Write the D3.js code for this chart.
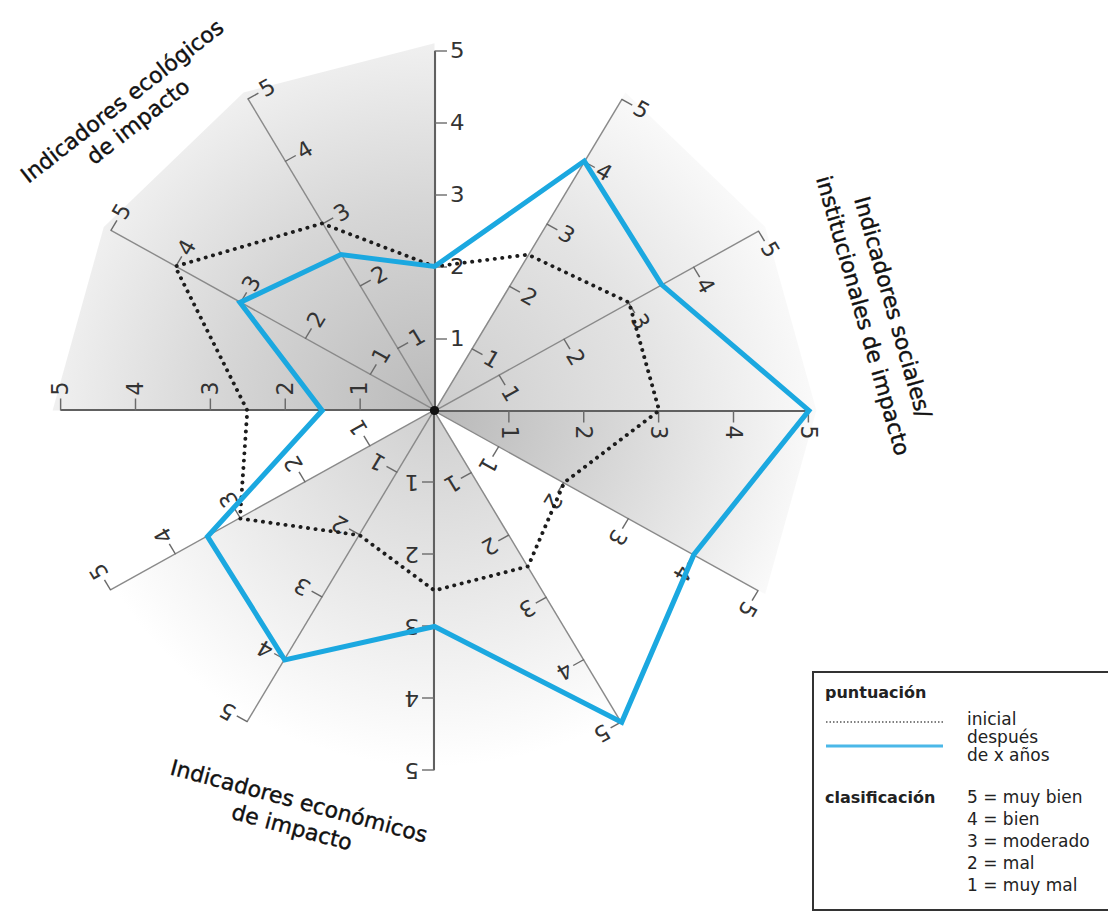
<!DOCTYPE html>
<html>
<head>
<meta charset="utf-8">
<script src="https://cdn.jsdelivr.net/npm/d3@7"></script>
<style>
  body { margin: 0; background: #fff; }
  svg { display: block; font-family: "DejaVu Sans", sans-serif; }
</style>
</head>
<body>
<svg id="chart" width="1108" height="913"></svg>
<script>
// axes go clockwise from 12 o'clock, one every 30 degrees
var axisAngles = [0, 30, 60, 90, 120, 150, 180, 210, 240, 270, 300, 330];
var scoreTicks = [1, 2, 3, 4, 5];
var scoreInitial = [2, 2.5, 3, 3, 2, 2.5, 2.5, 2, 3, 2.5, 4, 3];
var scoreAfter = [2, 4, 3.5, 5, 4, 5, 3, 4, 3.5, 1.5, 3, 2.5];
// grey sectors behind the axes (degrees, clockwise from 12 o'clock)
var shadeFrom = [270, 30, 90, 150];
var shadeTo = [360, 90, 120, 240];
var groupTitles = [
  ["Indicadores ecológicos", "de impacto"],
  ["Indicadores sociales/", "institucionales de impacto"],
  ["Indicadores económicos", "de impacto"]
];
var legendScore = ["inicial", "después", "de x años"];
var legendClass = ["5 = muy bien", "4 = bien", "3 = moderado", "2 = mal", "1 = muy mal"];

var svg = d3.select("#chart");
var defs = svg.append("defs");
var unit = 72;
var r = d3.scaleLinear().domain([0, 5]).range([0, 5 * unit]);
var rad = function(a){ return a * Math.PI / 180; };

var chart = svg.append("g")
    .attr("transform", "translate(434.5,410.5) scale(1.04,1)");

// shading
var tones = [
  [["0%", "#bababa"], ["55%", "#d6d6d6"], ["100%", "#f1f1f1"]],
  [["0%", "#cdcdcd"], ["55%", "#e3e3e3"], ["100%", "#fbfbfb"]],
  [["0%", "#b8b8b8"], ["50%", "#d9d9d9"], ["100%", "#fbfbfb"]],
  [["0%", "#d0d0d0"], ["55%", "#ebebeb"], ["95%", "#ffffff"]]
];
var sectorLine = d3.lineRadial()
    .angle(function(d){ return d[0]; })
    .radius(function(d){ return d[1]; })
    .curve(d3.curveLinearClosed);

shadeFrom.forEach(function(from, i){
  var grad = defs.append("radialGradient")
      .attr("id", "shade" + i)
      .attr("gradientUnits", "userSpaceOnUse")
      .attr("cx", 0).attr("cy", 0).attr("r", r(5.2));
  grad.selectAll("stop")
      .data(tones[i])
      .enter()
      .append("stop")
      .attr("offset", function(d){ return d[0]; })
      .attr("stop-color", function(d){ return d[1]; });

  var pts = [[0, 0]];
  for (var a = from; a <= shadeTo[i]; a += 30) pts.push([rad(a), r(5.1)]);
  chart.append("path")
      .attr("d", sectorLine(pts))
      .attr("fill", "url(#shade" + i + ")");
});

// axes
var y = d3.scaleLinear().domain([0, 5]).range([0, -5 * unit]);
axisAngles.forEach(function(a){
  var main = a % 90 === 0;
  var g = chart.append("g")
      .attr("class", "axis")
      .attr("transform", "rotate(" + a + ")")
      .call(d3.axisRight(y)
          .tickValues(scoreTicks)
          .tickSize(12)
          .tickSizeOuter(0)
          .tickPadding(3)
          .tickFormat(d3.format("d")))
      .attr("font-size", 22)
      .attr("font-family", "DejaVu Sans, sans-serif");
  g.select(".domain")
      .attr("stroke", main ? "#606060" : "#8a8a8a")
      .attr("stroke-width", main ? 2 : 1.4);
  g.selectAll(".tick line")
      .attr("stroke", "#6a6a6a")
      .attr("stroke-width", 1.4);
  g.selectAll(".tick text")
      .attr("fill", "#333");
});

// score lines
var radial = d3.lineRadial()
    .angle(function(d, i){ return rad(axisAngles[i]); })
    .radius(function(d){ return r(d); })
    .curve(d3.curveLinearClosed);

chart.append("path")
    .attr("d", radial(scoreInitial))
    .attr("fill", "none")
    .attr("stroke", "#1c1c1c")
    .attr("stroke-width", 3.8)
    .attr("stroke-linecap", "round")
    .attr("stroke-dasharray", "0.1 7.2");

chart.append("path")
    .attr("d", radial(scoreAfter))
    .attr("fill", "none")
    .attr("stroke", "#1ba8e0")
    .attr("stroke-width", 5)
    .attr("stroke-linejoin", "miter");

chart.append("circle")
    .attr("r", 4.5)
    .attr("fill", "#111");

// group titles
var titlePos = [[122, 101, -38, 26], [893, 307, 74, 31], [299, 801, 15, 27]];
groupTitles.forEach(function(lines, i){
  var p = titlePos[i];
  var t = svg.append("g")
      .attr("transform", "translate(" + p[0] + "," + p[1] + ") rotate(" + p[2] + ")");
  t.selectAll("text")
      .data(lines)
      .enter()
      .append("text")
      .attr("y", function(d, j){ return j * p[3]; })
      .attr("dy", "0.35em")
      .attr("text-anchor", "middle")
      .attr("font-size", 22)
      .attr("fill", "#111")
      .attr("stroke", "#111")
      .attr("stroke-width", 0.4)
      .text(function(d){ return d; });
});

// legend
var lg = svg.append("g");
lg.append("rect")
    .attr("x", 813).attr("y", 672)
    .attr("width", 300).attr("height", 238)
    .attr("fill", "#fff")
    .attr("stroke", "#333")
    .attr("stroke-width", 2);

lg.append("text")
    .attr("x", 825).attr("y", 698)
    .attr("font-size", 16).attr("font-weight", "bold")
    .attr("fill", "#222")
    .text("puntuación");

lg.append("line")
    .attr("x1", 826).attr("x2", 943)
    .attr("y1", 722).attr("y2", 722)
    .attr("stroke", "#555")
    .attr("stroke-width", 1.5)
    .attr("stroke-dasharray", "1.5 2");

lg.append("line")
    .attr("x1", 826).attr("x2", 943)
    .attr("y1", 746).attr("y2", 746)
    .attr("stroke", "#4bb8e8")
    .attr("stroke-width", 3);

lg.selectAll("text.score")
    .data(legendScore)
    .enter()
    .append("text")
    .attr("class", "score")
    .attr("x", 967)
    .attr("y", function(d, i){ return 725 + i * 18; })
    .attr("font-size", 17)
    .attr("fill", "#222")
    .text(function(d){ return d; });

lg.append("text")
    .attr("x", 825).attr("y", 803)
    .attr("font-size", 16).attr("font-weight", "bold")
    .attr("fill", "#222")
    .text("clasificación");

lg.selectAll("text.cls")
    .data(legendClass)
    .enter()
    .append("text")
    .attr("class", "cls")
    .attr("x", 967)
    .attr("y", function(d, i){ return 803 + i * 22; })
    .attr("font-size", 17)
    .attr("fill", "#222")
    .text(function(d){ return d; });
</script>
</body>
</html>
